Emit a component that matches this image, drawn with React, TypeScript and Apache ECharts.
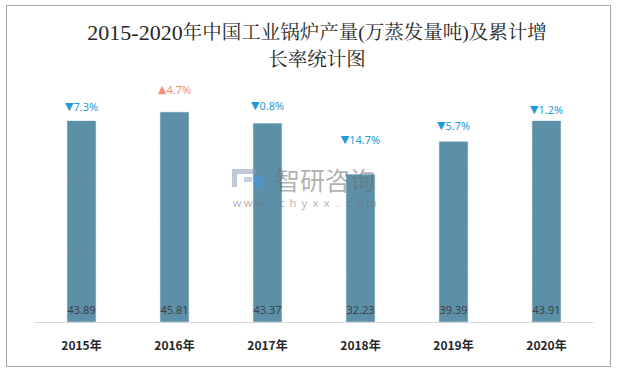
import React, { useEffect, useRef } from "react";
import * as echarts from "echarts";

const categories = ["2015年", "2016年", "2017年", "2018年", "2019年", "2020年"];
const output = [43.89, 45.81, 43.37, 32.23, 39.39, 43.91];
const growth = [-7.3, 4.7, -0.8, -14.7, -5.7, -1.2];
const growthLabelLift = [9, 17, 12, 29, 10, 6];

const titleYears = "2015-2020";
const titleLine1 = "年中国工业锅炉产量(万蒸发量吨)及累计增";
const titleLine2 = "长率统计图";

const BAR = "#5c90a8";
const DOWN = "#1e9cd7";
const UP = "#f2907a";

export default function App() {
  const ref = useRef<HTMLDivElement>(null);
  useEffect(() => {
    if (!ref.current) return;
    const chart = echarts.init(ref.current, null, { renderer: "svg" });
    const wm = "www.chyxx.com".split("");
    const serif = '"Liberation Serif", "Noto Serif CJK SC", serif';
    const option: any = {
      animation: false,
      backgroundColor: "#ffffff",
      title: {
        text: `{y|${titleYears}}{c|${titleLine1}}\n{c|${titleLine2}}`,
        left: 312,
        top: 14,
        textAlign: "center",
        textStyle: {
          fontFamily: serif,
          fontSize: 20,
          fontWeight: "normal",
          color: "#262626",
          lineHeight: 27,
          align: "center",
          rich: {
            y: { fontFamily: serif, fontSize: 22, color: "#262626", lineHeight: 27 },
            c: { fontFamily: serif, fontSize: 19.5, color: "#262626", lineHeight: 27 },
          },
        },
      },
      grid: { left: 35, right: 25, top: 92.8, bottom: 49, containLabel: false },
      xAxis: {
        type: "category",
        data: categories,
        axisLine: { show: true, lineStyle: { color: "#d9d9d9", width: 1 } },
        axisTick: { show: false },
        axisLabel: {
          margin: 16,
          fontFamily: '"Noto Sans CJK SC", sans-serif',
          fontWeight: "bold",
          fontSize: 12,
          color: "#262626",
        },
      },
      yAxis: {
        type: "value",
        min: 0,
        max: 50,
        show: false,
        splitLine: { show: false },
      },
      series: [
        {
          type: "bar",
          barWidth: 29,
          data: output.map((v, i) => ({
            value: v,
            label: {
              show: true,
              position: "top",
              distance: growthLabelLift[i],
              formatter: () =>
                growth[i] < 0
                  ? `{d|▼}{dt|${Math.abs(growth[i]).toFixed(1)}%}`
                  : `{u|▲}{ut|${growth[i].toFixed(1)}%}`,
              rich: {
                d: { color: DOWN, fontSize: 11, fontFamily: '"DejaVu Sans", sans-serif' },
                dt: { color: DOWN, fontSize: 11, fontFamily: '"Noto Sans", sans-serif' },
                u: { color: UP, fontSize: 11, fontFamily: '"DejaVu Sans", sans-serif' },
                ut: { color: UP, fontSize: 11, fontFamily: '"Noto Sans", sans-serif' },
              },
            },
          })),
          itemStyle: {
            color: BAR,
            borderColor: "#6c9bb1",
            borderWidth: 0.6,
            borderType: "dashed",
          },
          z: 2,
        },
        {
          type: "bar",
          barWidth: 29,
          barGap: "-100%",
          data: output,
          itemStyle: { color: "rgba(0,0,0,0)" },
          label: {
            show: true,
            position: "insideBottom",
            distance: 7,
            formatter: (p: any) => p.value.toFixed(2),
            color: "#404040",
            fontSize: 11,
            fontFamily: '"Noto Sans", sans-serif',
          },
          silent: true,
          z: 20,
        },
      ],
      graphic: [
        {
          type: "rect",
          shape: { x: 6.5, y: 5.5, width: 604, height: 361 },
          style: { fill: "none", stroke: "#a6a6a6", lineWidth: 1 },
          z: 50,
        },
        {
          type: "group",
          z: 30,
          children: [
            {
              type: "polygon",
              shape: { points: [[232, 169], [256, 169], [256, 174], [237, 174], [237, 187], [232, 187]] },
              style: { fill: "rgba(140,155,185,0.55)" },
              z: 30,
            },
            {
              type: "rect",
              shape: { x: 244, y: 177, width: 8, height: 5 },
              style: { fill: "rgba(150,170,200,0.55)" },
              z: 30,
            },
            {
              type: "rect",
              shape: { x: 254, y: 176, width: 9, height: 11 },
              style: { fill: "rgba(70,150,225,0.6)" },
              z: 30,
            },
            {
              type: "text",
              x: 325,
              y: 178.5,
              style: {
                text: "智研咨询",
                fontSize: 25,
                fontFamily: '"Noto Sans CJK SC", sans-serif',
                fill: "rgba(110,110,110,0.55)",
                align: "center",
                verticalAlign: "middle",
                lineHeight: 22,
              },
              z: 30,
            },
            ...wm.map((c, i) => ({
              type: "text",
              x: 237 + i * 11.2,
              y: 202.5,
              style: {
                text: c,
                fontSize: 11,
                lineHeight: 10,
                fontFamily: '"Noto Sans", sans-serif',
                fill: "rgba(110,110,110,0.55)",
                align: "center",
                verticalAlign: "middle",
              },
              z: 30,
            })),
          ],
        },
      ],
    };
    chart.setOption(option);
    return () => chart.dispose();
  }, []);
  return (
    <div
      ref={ref}
      style={{ position: "fixed", left: 0, top: 0, width: 618, height: 371 }}
    />
  );
}
